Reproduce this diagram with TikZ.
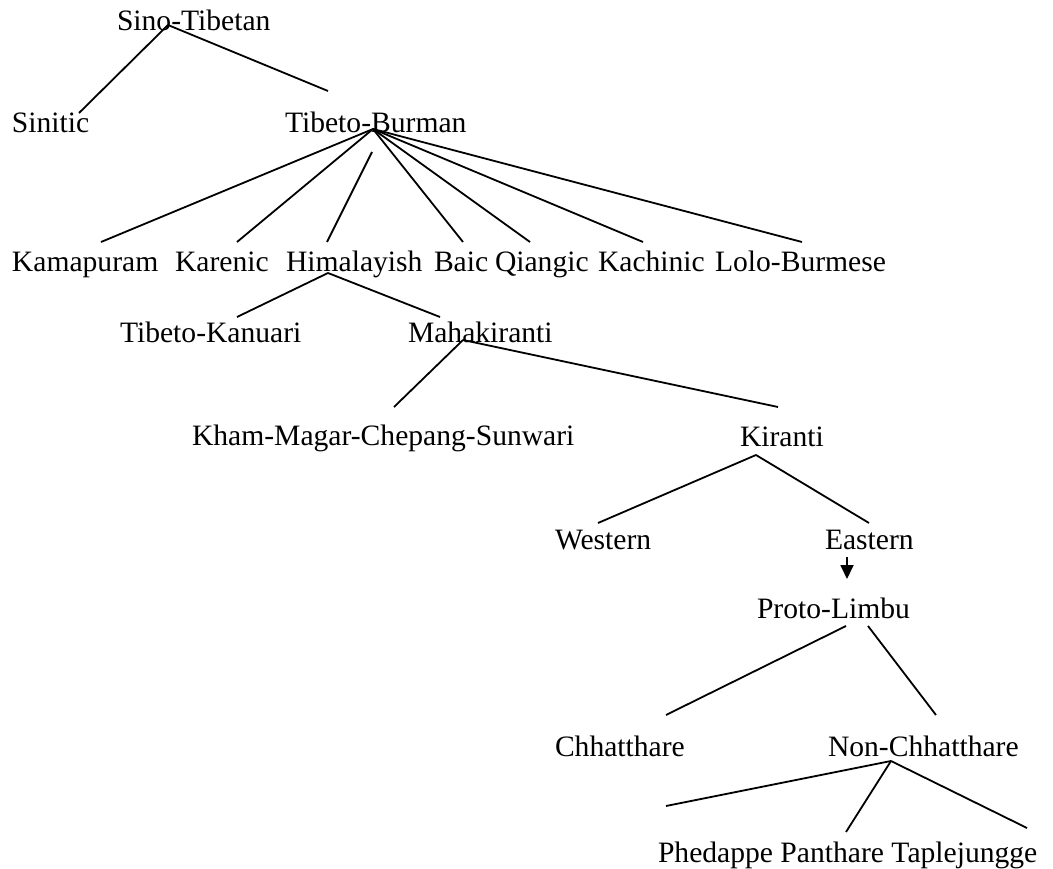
\documentclass[tikz,border=0pt]{standalone}
\usepackage{fontspec}
\setmainfont{Liberation Serif}
\usetikzlibrary{arrows.meta}

\begin{document}
\begin{tikzpicture}[x=1pt,y=-1pt,line width=1.8pt,>={Triangle[length=14pt,width=13pt]},every node/.style={anchor=base west,inner sep=0pt,outer sep=0pt,font=\fontsize{29.6}{34}\selectfont}]
  \useasboundingbox (0,0) rectangle (1053,869);
  % labels
  \node (st) at (117,31) {Sino-Tibetan};
  \node (sin) at (12,133) {Sinitic};
  \node (tb) at (285,133) {Tibeto-Burman};
  \node (kam) at (12,272) {Kamapuram};
  \node (kar) at (175,272) {Karenic};
  \node (him) at (286,272) {Himalayish};
  \node (bai) at (434,272) {Baic};
  \node (qia) at (495,272) {Qiangic};
  \node (kac) at (598,272) {Kachinic};
  \node (lol) at (715,272) {Lolo-Burmese};
  \node (tk) at (120,342) {Tibeto-Kanuari};
  \node (mk) at (408,342) {Mahakiranti};
  \node (kmcs) at (192,445) {Kham-Magar-Chepang-Sunwari};
  \node (kir) at (740,446) {Kiranti};
  \node (wes) at (555,549) {Western};
  \node (eas) at (825,549) {Eastern};
  \node (pl) at (757,618) {Proto-Limbu};
  \node (chh) at (555,756) {Chhatthare};
  \node (nch) at (828,756) {Non-Chhatthare};
  \node (ppt) at (658,862) {Phedappe Panthare Taplejungge};
  % line ends
  \coordinate (st-j) at (168,25);
  \coordinate (sin-t) at (79,113);
  \coordinate (tb-t) at (328,91);
  \coordinate (tb-j) at (373,129);
  \coordinate (tb-j2) at (372,152);
  \coordinate (kam-t) at (101,242);
  \coordinate (kar-t) at (237,242);
  \coordinate (him-t) at (327,242);
  \coordinate (bai-t) at (463,242);
  \coordinate (qia-t) at (530,242);
  \coordinate (kac-t) at (643,242);
  \coordinate (lol-t) at (802,242);
  \coordinate (him-j) at (328,273);
  \coordinate (tk-t) at (237,317);
  \coordinate (mk-t) at (440,317);
  \coordinate (mk-j) at (463,340);
  \coordinate (kmcs-t) at (394,407);
  \coordinate (kir-t) at (778,407);
  \coordinate (kir-j) at (756,455);
  \coordinate (wes-t) at (598,523);
  \coordinate (eas-t) at (869,523);
  \coordinate (eas-j) at (847,557);
  \coordinate (pl-t) at (847,579);
  \coordinate (pl-j1) at (846,626);
  \coordinate (pl-j2) at (868,626);
  \coordinate (chh-t) at (666,715);
  \coordinate (nch-t) at (936,715);
  \coordinate (nch-j) at (891,761);
  \coordinate (ppt-t1) at (666,806);
  \coordinate (ppt-t2) at (846,832);
  \coordinate (ppt-t3) at (1027,828);
  % branches
  \draw (st-j) -- (sin-t);
  \draw (st-j) -- (tb-t);
  \foreach \n in {kam,kar,bai,qia,kac,lol}
    \draw (tb-j) -- (\n-t);
  \draw (tb-j2) -- (him-t);
  \draw (him-j) -- (tk-t);
  \draw (him-j) -- (mk-t);
  \draw (mk-j) -- (kmcs-t);
  \draw (mk-j) -- (kir-t);
  \draw (kir-j) -- (wes-t);
  \draw (kir-j) -- (eas-t);
  \draw[->] (eas-j) -- (pl-t);
  \draw (pl-j1) -- (chh-t);
  \draw (pl-j2) -- (nch-t);
  \foreach \n in {ppt-t1,ppt-t2,ppt-t3}
    \draw (nch-j) -- (\n);
\end{tikzpicture}
\end{document}
